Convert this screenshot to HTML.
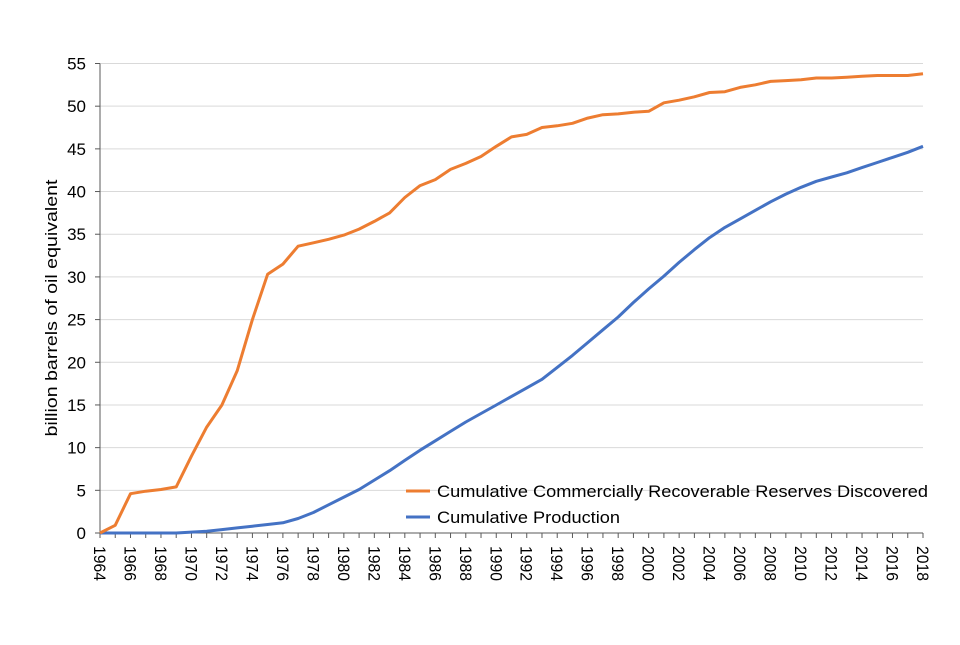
<!DOCTYPE html>
<html><head><meta charset="utf-8"><style>
body{margin:0;background:#fff;}
svg text{font-family:"Liberation Sans",Arial,sans-serif;fill:#000;}
</style></head><body>
<svg id="chart" width="960" height="640" xmlns="http://www.w3.org/2000/svg">
<g id="grid"></g><g id="axes"></g><g id="series"></g>
<text transform="translate(57,308) rotate(-90)" text-anchor="middle" font-size="17" textLength="257" lengthAdjust="spacingAndGlyphs">billion barrels of oil equivalent</text>
<g>
<line x1="406" y1="491" x2="430" y2="491" stroke="#ED7D31" stroke-width="3"/>
<text x="437" y="497" font-size="17" textLength="491" lengthAdjust="spacingAndGlyphs">Cumulative Commercially Recoverable Reserves Discovered</text>
<line x1="406" y1="517" x2="430" y2="517" stroke="#4472C4" stroke-width="3"/>
<text x="437" y="523" font-size="17" textLength="183" lengthAdjust="spacingAndGlyphs">Cumulative Production</text>
</g>
</svg>
<script>
const years = [];for(let y=1964;y<=2018;y++)years.push(y);
const reserves = [0,0.9,4.6,4.9,5.1,5.4,9,12.4,15,19,25,30.3,31.5,33.6,34,34.4,34.9,35.6,36.5,37.5,39.3,40.7,41.4,42.6,43.3,44.1,45.3,46.4,46.7,47.5,47.7,48,48.6,49,49.1,49.3,49.4,50.4,50.7,51.1,51.6,51.7,52.2,52.5,52.9,53.0,53.1,53.3,53.3,53.4,53.5,53.6,53.6,53.6,53.8];
const production = [0,0,0,0,0,0,0.1,0.2,0.4,0.6,0.8,1.0,1.2,1.7,2.4,3.3,4.2,5.1,6.2,7.3,8.5,9.7,10.8,11.9,13.0,14.0,15.0,16.0,17.0,18.0,19.4,20.8,22.3,23.8,25.3,27.0,28.6,30.1,31.7,33.2,34.6,35.8,36.8,37.8,38.8,39.7,40.5,41.2,41.7,42.2,42.8,43.4,44.0,44.6,45.3];
const yTicks = [0,5,10,15,20,25,30,35,40,45,50,55];
const NS="http://www.w3.org/2000/svg";
const X0=100,X1=923,Y0=533,Y1=63.5;
const xs=y=>X0+(y-1964)/(2018-1964)*(X1-X0);
const ys=v=>Y0-v/55*(Y0-Y1);
function mk(tag,attrs,parent){const e=document.createElementNS(NS,tag);for(const k in attrs)e.setAttribute(k,attrs[k]);parent.appendChild(e);return e;}
const grid=document.getElementById('grid'),axes=document.getElementById('axes'),series=document.getElementById('series');
yTicks.forEach(t=>{
 if(t>0){const g=mk('line',{x1:X0,x2:X1,y1:ys(t),y2:ys(t),stroke:'#d9d9d9','stroke-width':1},grid);
 
 }
 const tk=mk('line',{x1:X0-5,x2:X0,y1:ys(t),y2:ys(t),stroke:'#595959','stroke-width':1},axes);
 
 
 const lb=mk('text',{x:X0-14,y:ys(t)+6,'text-anchor':'end','font-size':17},axes);
 lb.textContent=t;
 
 
});
const ya=mk('line',{x1:X0,x2:X0,y1:Y1,y2:Y0,stroke:'#595959','stroke-width':1},axes);


const xa=mk('line',{x1:X0,x2:X1,y1:Y0,y2:Y0,stroke:'#595959','stroke-width':1},axes);


years.forEach(y=>{
 const tk=mk('line',{x1:xs(y),x2:xs(y),y1:Y0,y2:Y0+5,stroke:'#595959','stroke-width':1},axes);
 
 
 if(y%2===0){const lb=mk('text',{transform:`translate(${xs(y)-6},${Y0+13}) rotate(90)`,'font-size':17,textLength:35,lengthAdjust:'spacingAndGlyphs'},axes);
 lb.textContent=y;
 
 }
});
function line(vals,color,name){
 const d=vals.map((v,i)=>(i?'L':'M')+xs(years[i]).toFixed(1)+','+ys(v).toFixed(1)).join(' ');
 const p=mk('path',{d:d,fill:'none',stroke:color,'stroke-width':3,'stroke-linejoin':'round'},series);
 
 
}
line(production,'#4472C4','production-line');
line(reserves,'#ED7D31','reserves-line');
</script>
</body></html>
